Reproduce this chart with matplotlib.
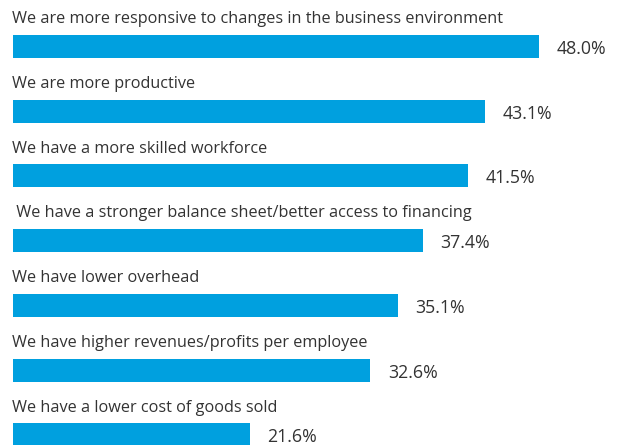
import matplotlib
matplotlib.use("Agg")
import matplotlib.pyplot as plt

plt.rcParams['font.family'] = ['Open Sans', 'DejaVu Sans']

categories = [
    "We are more responsive to changes in the business environment",
    "We are more productive",
    "We have a more skilled workforce",
    " We have a stronger balance sheet/better access to financing",
    "We have lower overhead",
    "We have higher revenues/profits per employee",
    "We have a lower cost of goods sold",
]
values = [48.0, 43.1, 41.5, 37.4, 35.1, 32.6, 21.6]

bar_color = "#00A0DF"
text_color = "#333333"

W, H = 618, 445
fig = plt.figure(figsize=(W / 100, H / 100), dpi=100)
ax = fig.add_axes([13 / W, 0, 1 - 13 / W, 1])

pitch = 64.7
ypos = list(range(len(categories)))
ax.barh(ypos, values, height=23 / pitch, color=bar_color, left=0)

ax.set_xlim(0, (W - 13) / 10.96)
ax.set_ylim((H - 46.5) / pitch, -46.5 / pitch)
ax.axis("off")

for y, cat, v in zip(ypos, categories, values):
    ax.text(-0.1, y - 0.42, cat, ha="left", va="center", fontsize=11.7,
            color=text_color)
    ax.text(v + 1.6, y + 0.04, f"{v:.1f}%", ha="left", va="center",
            fontsize=12.8, color=text_color)

fig.savefig("out.png", dpi=100)
